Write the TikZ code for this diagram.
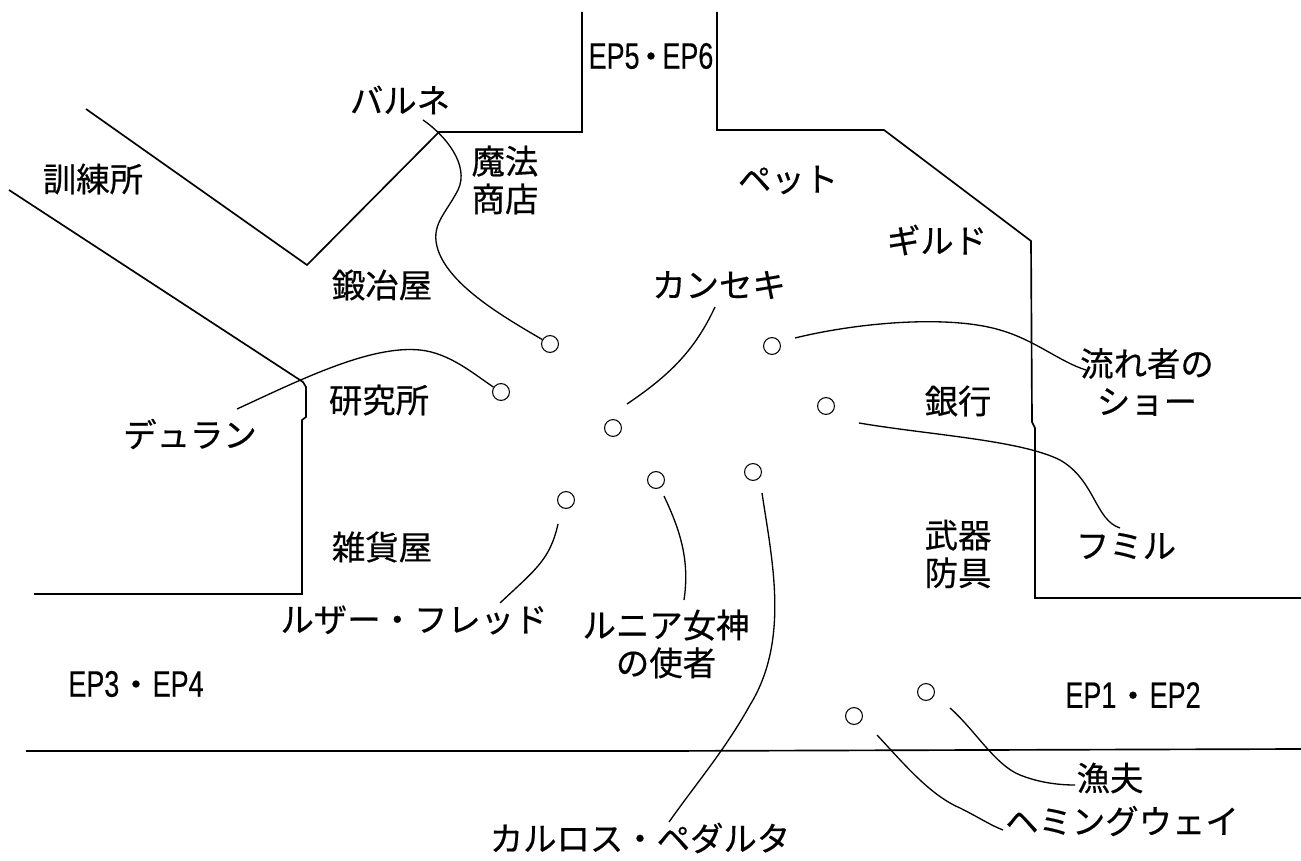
\documentclass[tikz,border=0pt]{standalone}
\usepackage{fontspec}
\setmainfont{Liberation Sans}
\newfontfamily\jp[RawFeature={embolden=0.5}]{Noto Sans CJK JP}
\newfontfamily\epfont[FakeStretch=0.73,RawFeature={embolden=0.3}]{Liberation Sans}
\newcommand{\epdot}{{\jp\fontsize{19}{21.5}\selectfont ・}}
\tikzset{
  lbl/.style={font=\jp\fontsize{19}{21.5}\selectfont,align=center,inner sep=0pt,text=black},
  ep/.style={font=\epfont\fontsize{21}{24}\selectfont,inner sep=0pt,text=black},
  npc/.style={circle,draw=black,line width=0.6pt,minimum size=9.6pt,inner sep=0pt},
  wall/.style={line width=0.95pt,black},
  lead/.style={line width=0.75pt,black}
}
\begin{document}
\begin{tikzpicture}[x=0.02cm,y=-0.02cm]
\useasboundingbox (0,0) rectangle (1301,861);
% walls
\draw[wall] (86,109) -- (307,265) -- (439,132) -- (582,132) -- (582,12);
\draw[wall] (717,12) -- (717,130) -- (884,130) -- (1031,241) -- (1032,422) -- (1035,428) -- (1035,598) -- (1301,598);
\draw[wall] (9,190) -- (303,382) -- (306,387) -- (306,417) -- (302,420) -- (302,594) -- (34,594);
\draw[wall] (26,751) -- (660,751) -- (1301,749);
% npcs
\node[npc] (balune) at (550,344) {};
\node[npc] (duran) at (501,392) {};
\node[npc] (kan) at (613,428) {};
\node[npc] (sho) at (772,346) {};
\node[npc] (fumi) at (826,406) {};
\node[npc] (luza) at (566,500) {};
\node[npc] (lunia) at (656,480) {};
\node[npc] (carlos) at (753,472) {};
\node[npc] (ryofu) at (926,692) {};
\node[npc] (hem) at (854,716) {};
% labels
\node[lbl] (tbalune) at (400,100) {バルネ};
\node[lbl] (tmagic) at (505,180) {魔法\\商店};
\node[lbl] at (788,180) {ペット};
\node[lbl] at (937,240) {ギルド};
\node[lbl] at (93,179) {訓練所};
\node[lbl] at (382,285) {鍛冶屋};
\node[lbl] (tkan) at (719,285) {カンセキ};
\node[lbl] (tsho) at (1147,382) {流れ者の\\ショー};
\node[lbl] at (379,400) {研究所};
\node[lbl] (tduran) at (190,434) {デュラン};
\node[lbl] at (958,401) {銀行};
\node[lbl] at (382,547) {雑貨屋};
\node[lbl] at (958,554) {武器\\防具};
\node[lbl] (tfumi) at (1126,546) {フミル};
\node[lbl] (tluza) at (414,620) {ルザー・フレッド};
\node[lbl] (tlunia) at (666,644) {ルニア女神\\の使者};
\node[lbl] (tryofu) at (1110,778) {漁夫};
\node[lbl] (them) at (1122,821) {ヘミングウェイ};
\node[lbl] (tcarlos) at (640,838) {カルロス・ペダルタ};
\node[ep] at (651,56) {EP5\kern-3pt\epdot\kern-3pt EP6};
\node[ep] at (136,684) {EP3\epdot EP4};
\node[ep] at (1133,695) {EP1\epdot EP2};
% leaders
\coordinate (b0) at (423,120);
\draw[lead] (b0) .. controls (445,135) and (470,165) .. (458,190) .. controls (445,215) and (430,225) .. (438,250) .. controls (450,285) and (500,315) .. (balune);
\draw[lead] (237,409) .. controls (300,380) and (370,345) .. (420,350) .. controls (450,353) and (475,375) .. (duran);
\draw[lead] (kan) ++(14,-24) .. controls (670,375) and (695,350) .. (715,307);
\draw[lead] (795,338) .. controls (860,322) and (950,315) .. (1000,330) .. controls (1035,340) and (1060,362) .. (1086,370);
\draw[lead] (859,423) .. controls (930,435) and (1020,440) .. (1060,460) .. controls (1095,480) and (1095,520) .. (1120,528);
\draw[lead] (luza) ++(-8,24) .. controls (550,560) and (535,570) .. (500,603);
\draw[lead] (664,496) .. controls (680,530) and (690,560) .. (684,600);
\draw[lead] (762,493) .. controls (772,560) and (790,640) .. (750,705) .. controls (725,750) and (695,785) .. (669,822);
\draw[lead] (950,708) .. controls (975,730) and (995,765) .. (1020,775) .. controls (1040,783) and (1060,785) .. (1075,785);
\draw[lead] (877,735) .. controls (905,765) and (930,795) .. (960,808) .. controls (980,818) and (990,825) .. (1003,830);
\end{tikzpicture}
\end{document}
